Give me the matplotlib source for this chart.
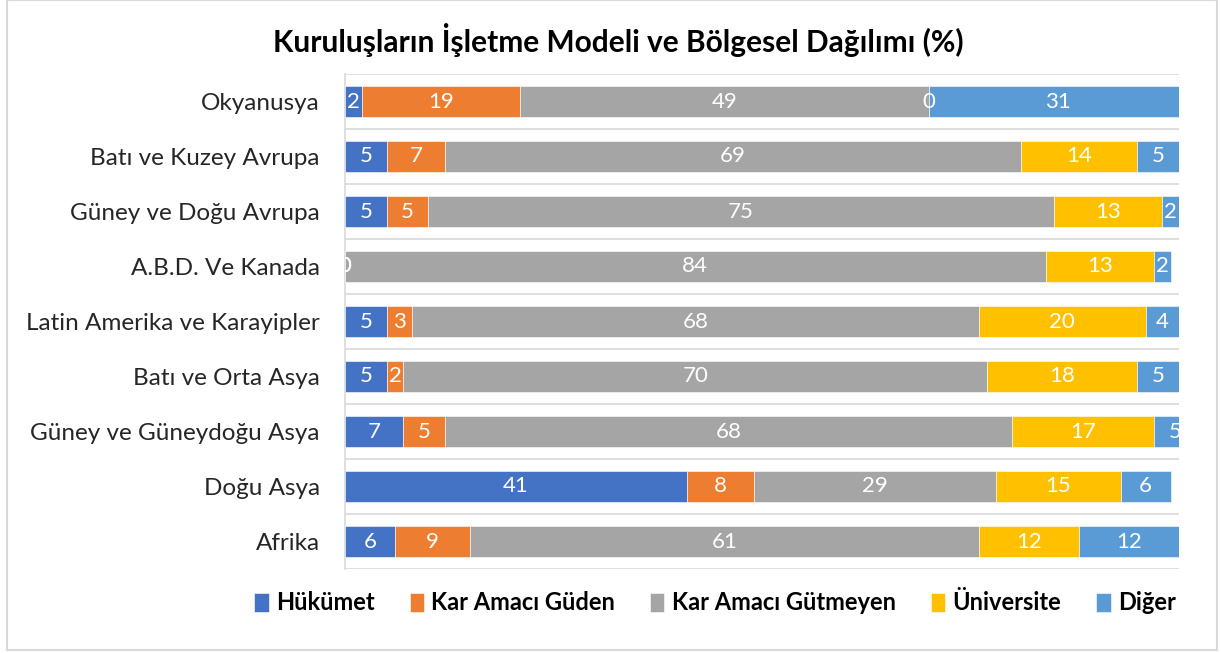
import matplotlib
matplotlib.use("Agg")
import matplotlib.pyplot as plt
from matplotlib.patches import Rectangle
import numpy as np

plt.rcParams['font.family'] = ['Lato', 'DejaVu Sans']

categories = ["Okyanusya", "Batı ve Kuzey Avrupa", "Güney ve Doğu Avrupa",
              "A.B.D. Ve Kanada", "Latin Amerika ve Karayipler", "Batı ve Orta Asya",
              "Güney ve Güneydoğu Asya", "Doğu Asya", "Afrika"]
series_names = ["Hükümet", "Kar Amacı Güden", "Kar Amacı Gütmeyen", "Üniversite", "Diğer"]
hukumet = [2, 5, 5, 0, 5, 5, 7, 41, 6]
kar_guden = [19, 7, 5, 0, 3, 2, 5, 8, 9]
kar_gutmeyen = [49, 69, 75, 84, 68, 70, 68, 29, 61]
universite = [0, 14, 13, 13, 20, 18, 17, 15, 12]
diger = [31, 5, 2, 2, 4, 5, 5, 6, 12]
colors = ["#4472C4", "#ED7D31", "#A5A5A5", "#FFC000", "#5B9BD5"]

data = [hukumet, kar_guden, kar_gutmeyen, universite, diger]

W, H = 1221, 653
fig = plt.figure(figsize=(W / 100, H / 100), dpi=100)
ax = fig.add_axes([345 / W, 1 - 569 / H, (1179 - 345) / W, (569 - 74) / H])

y = np.arange(len(categories))
left = np.zeros(len(categories))
for vals, name, c in zip(data, series_names, colors):
    vals = np.array(vals, dtype=float)
    ax.barh(y, vals, left=left, height=0.57, color=c, label=name,
            edgecolor="white", linewidth=0.4, zorder=3)
    for yi, (l, v) in enumerate(zip(left, vals)):
        ax.text(l + v / 2, yi, f"{int(v)}", ha="center", va="center",
                color="white", fontsize=16, zorder=4, clip_on=True)
    left += vals

ax.set_xlim(0, 100)
ax.set_ylim(len(categories) - 0.5, -0.5)
ax.set_yticks(y)
ax.set_yticklabels(categories, fontsize=17.5, color="#262626")
ax.tick_params(axis="y", length=0, pad=18)
ax.set_xticks([])
for yb in np.arange(-0.5, len(categories), 1.0):
    ax.axhline(yb, color="#D9D9D9", linewidth=1.2, zorder=1)
for s in ["top", "right", "bottom"]:
    ax.spines[s].set_visible(False)
ax.spines["left"].set_color("#D9D9D9")
ax.spines["left"].set_linewidth(1.2)

fig.text(618 / W, 1 - 40 / H, "Kuruluşların İşletme Modeli ve Bölgesel Dağılımı (%)",
         ha="center", va="center", fontsize=21.5, fontweight="bold", color="#000000")

handles, labels = ax.get_legend_handles_labels()
leg = fig.legend(handles, labels, loc="center", bbox_to_anchor=(715 / W, 1 - 603 / H),
                 ncol=5, frameon=False, prop={"size": 17, "weight": "bold"},
                 handlelength=0.6, handleheight=0.9, handletextpad=0.3, columnspacing=1.5)

fig.patches.append(Rectangle((7 / W, 1 - 650 / H), (1217 - 7) / W, (650 - 0) / H,
                             transform=fig.transFigure, fill=False,
                             edgecolor="#D9D9D9", linewidth=1.5))

fig.savefig("out.png", dpi=100)
